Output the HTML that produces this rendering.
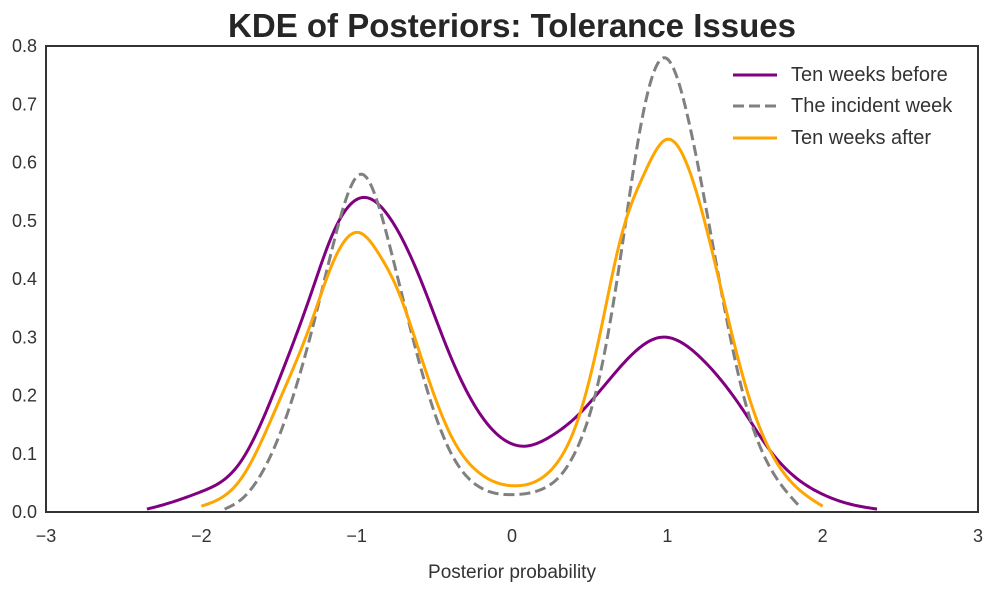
<!DOCTYPE html>
<html><head><meta charset="utf-8"><style>
body{margin:0;background:#fff;}
svg{display:block;font-family:"Liberation Sans",Arial,sans-serif;}
</style></head><body>
<svg id="chart" width="998" height="590">
<text x="512" y="37" text-anchor="middle" font-size="33" font-weight="bold" fill="#262626">KDE of Posteriors: Tolerance Issues</text>
<g id="ticks"></g>
<g id="lines"></g>
<rect x="46" y="46" width="932" height="466" fill="none" stroke="#333" stroke-width="2"/>
<text x="512" y="578" text-anchor="middle" font-size="19" fill="#333">Posterior probability</text>
<g>
<line x1="733" y1="75" x2="777" y2="75" stroke="#800080" stroke-width="3"/>
<text x="791" y="81" font-size="20" fill="#333">Ten weeks before</text>
<line x1="733" y1="106" x2="777" y2="106" stroke="#808080" stroke-width="3" stroke-dasharray="11,5"/>
<text x="791" y="112" font-size="20" fill="#333">The incident week</text>
<line x1="733" y1="138" x2="777" y2="138" stroke="#FFA500" stroke-width="3"/>
<text x="791" y="144" font-size="20" fill="#333">Ten weeks after</text>
</g>
</svg>
<script>
const xTicks=[-3,-2,-1,0,1,2,3];
const xTickLabels=["\u22123","\u22122","\u22121","0","1","2","3"];
const yTicks=[0,0.1,0.2,0.3,0.4,0.5,0.6,0.7,0.8];
const yTickLabels=["0.0","0.1","0.2","0.3","0.4","0.5","0.6","0.7","0.8"];
const beforeX=[-2.35,-2.25,-2,-1.75,-1.5,-1.3,-1.15,-0.96,-0.8,-0.59,-0.4,-0.21,0.08,0.25,0.42,0.7,0.96,1.21,1.5,1.66,1.98,2.2,2.35];
const beforeY=[0.005,0.012,0.035,0.085,0.227,0.37,0.48,0.54,0.51,0.40,0.27,0.17,0.113,0.13,0.165,0.25,0.30,0.266,0.17,0.106,0.033,0.012,0.005];
const incidentX=[-1.85,-1.75,-1.5,-1.3,-1.15,-0.97,-0.8,-0.59,-0.4,-0.21,0.02,0.2,0.31,0.42,0.57,0.70,0.82,0.98,1.13,1.34,1.5,1.66,1.85];
const incidentY=[0.005,0.02,0.13,0.30,0.46,0.58,0.47,0.25,0.105,0.043,0.03,0.04,0.062,0.11,0.24,0.44,0.65,0.78,0.68,0.39,0.19,0.077,0.01];
const afterX=[-2,-1.75,-1.5,-1.3,-1.15,-0.99,-0.85,-0.75,-0.59,-0.4,-0.21,0.02,0.2,0.31,0.42,0.57,0.70,0.85,1.0,1.15,1.34,1.5,1.66,1.85,2.0];
const afterY=[0.01,0.055,0.19,0.32,0.43,0.48,0.44,0.39,0.27,0.135,0.067,0.045,0.06,0.092,0.155,0.31,0.47,0.58,0.64,0.58,0.39,0.22,0.106,0.038,0.01];
const NS="http://www.w3.org/2000/svg";
const sx=v=>46+(v+3)*932/6;
const sy=v=>512-v*466/0.8;
const tg=document.getElementById('ticks');
xTicks.forEach((t,i)=>{const e=document.createElementNS(NS,'text');
e.setAttribute('x',sx(t));e.setAttribute('y',542);e.setAttribute('text-anchor','middle');e.setAttribute('font-size','18');e.setAttribute('fill','#333');


e.textContent=xTickLabels[i];tg.appendChild(e);});
yTicks.forEach((t,i)=>{const e=document.createElementNS(NS,'text');
e.setAttribute('x',37);e.setAttribute('y',sy(t)+6);e.setAttribute('text-anchor','end');e.setAttribute('font-size','18');e.setAttribute('fill','#333');


e.textContent=yTickLabels[i];tg.appendChild(e);});
function spline(xs,ys){const n=xs.length,h=[],a=[],l=[1],mu=[0],z=[0],c=new Array(n).fill(0),b=[],d=[];
for(let i=0;i<n-1;i++)h.push(xs[i+1]-xs[i]);
for(let i=1;i<n-1;i++)a[i]=3/h[i]*(ys[i+1]-ys[i])-3/h[i-1]*(ys[i]-ys[i-1]);
for(let i=1;i<n-1;i++){l[i]=2*(xs[i+1]-xs[i-1])-h[i-1]*mu[i-1];mu[i]=h[i]/l[i];z[i]=(a[i]-h[i-1]*z[i-1])/l[i];}
for(let j=n-2;j>=0;j--){c[j]=(j>0?z[j]-mu[j]*c[j+1]:0);}
c[0]=0;
for(let j=0;j<n-1;j++){b[j]=(ys[j+1]-ys[j])/h[j]-h[j]*(c[j+1]+2*c[j])/3;d[j]=(c[j+1]-c[j])/(3*h[j]);}
return x=>{let j=0;while(j<n-2&&x>xs[j+1])j++;const t=x-xs[j];return ys[j]+b[j]*t+c[j]*t*t+d[j]*t*t*t;};}
function pathFor(xs,ys){const f=spline(xs,ys);let d='';const x0=xs[0],x1=xs[xs.length-1],N=Math.ceil((sx(x1)-sx(x0))/2);
for(let k=0;k<=N;k++){const x=x0+(x1-x0)*k/N;d+=(k?' L':'M')+sx(x).toFixed(2)+','+sy(Math.max(0,f(x))).toFixed(2);}return d;}
const lg=document.getElementById('lines');
function addLine(xs,ys,color,dash,name){const e=document.createElementNS(NS,'path');
e.setAttribute('d',pathFor(xs,ys));e.setAttribute('fill','none');e.setAttribute('stroke',color);e.setAttribute('stroke-width','3');e.setAttribute('stroke-linejoin','round');
if(dash)e.setAttribute('stroke-dasharray',dash);


lg.appendChild(e);}
addLine(beforeX,beforeY,'#800080',null,'line-ten-weeks-before');
addLine(incidentX,incidentY,'#808080','11,5','line-incident-week');
addLine(afterX,afterY,'#FFA500',null,'line-ten-weeks-after');
</script>
</body></html>
